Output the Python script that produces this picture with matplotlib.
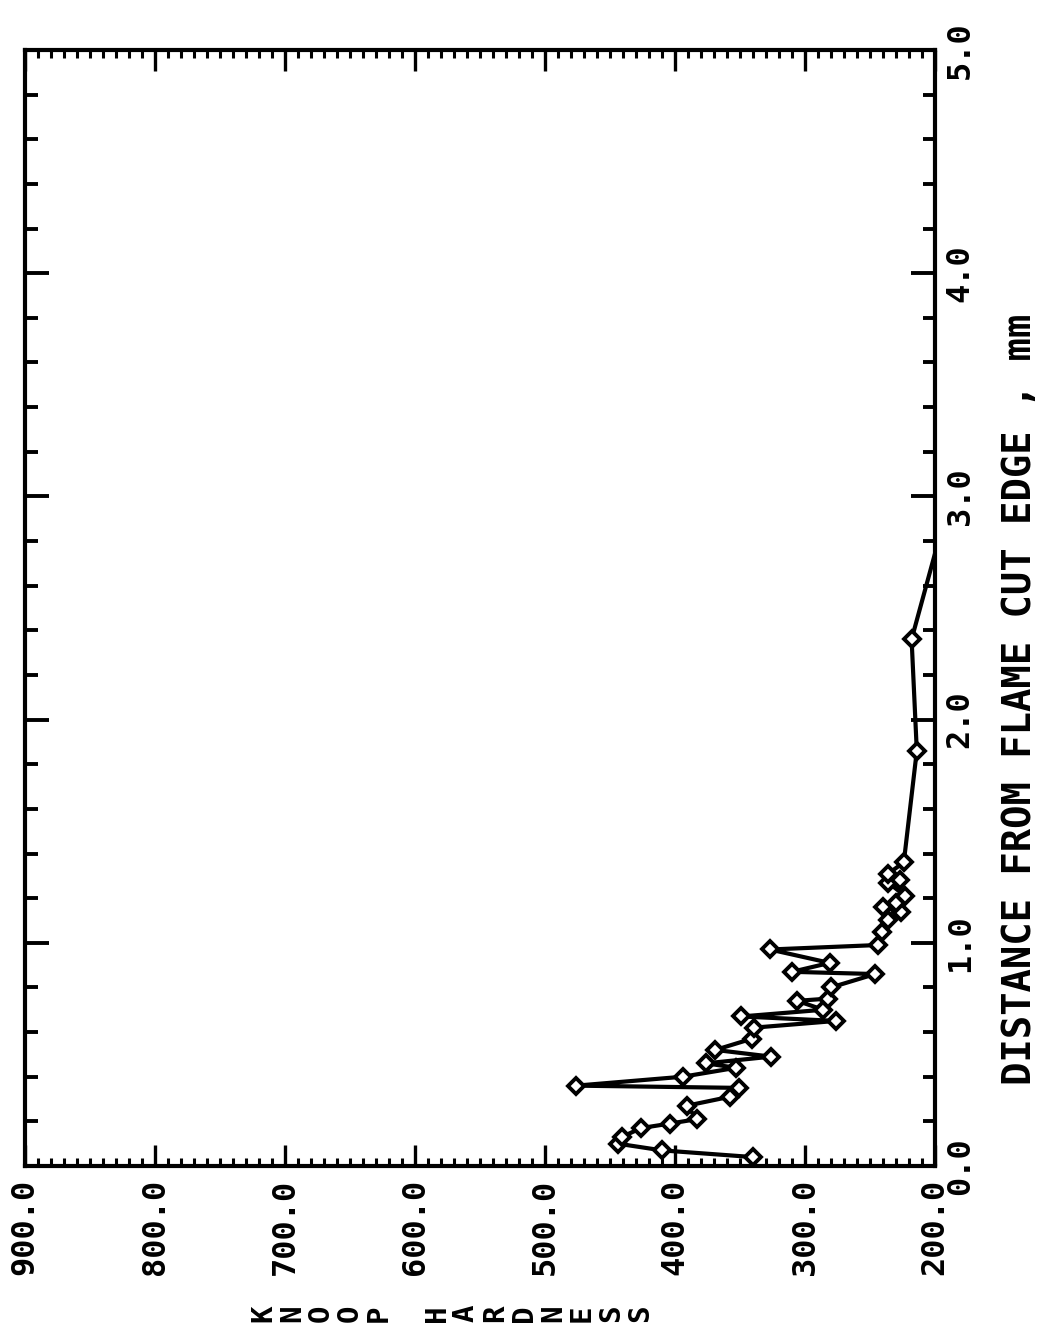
import matplotlib
matplotlib.use("Agg")
import matplotlib.pyplot as plt
from matplotlib.ticker import MultipleLocator

# Knoop hardness traverse away from a flame-cut edge
distance_mm = [0.04, 0.07, 0.10, 0.13, 0.17, 0.19, 0.21, 0.27, 0.31, 0.35,
               0.36, 0.40, 0.44, 0.46, 0.49, 0.52, 0.57, 0.62, 0.65, 0.67,
               0.70, 0.74, 0.75, 0.80, 0.86, 0.87, 0.91, 0.97, 0.99, 1.05,
               1.10, 1.14, 1.16, 1.18, 1.21, 1.27, 1.28, 1.31, 1.36, 1.86,
               2.36, 3.00]
knoop_hardness = [340, 410, 444, 441, 426, 404, 383, 391, 358, 351,
                  476, 394, 353, 376, 326, 369, 341, 339, 276, 349,
                  286, 306, 282, 280, 246, 310, 281, 327, 244, 241,
                  236, 226, 240, 230, 223, 236, 227, 236, 224, 214,
                  218, 188]

hardness_ticks = [900, 800, 700, 600, 500, 400, 300, 200]
hardness_tick_labels = ["900.0", "800.0", "700.0", "600.0",
                        "500.0", "400.0", "300.0", "200.0"]
distance_ticks = [0, 1, 2, 3, 4, 5]
distance_tick_labels = ["0.0", "1.0", "2.0", "3.0", "4.0", "5.0"]
hardness_title = "KNOOP HARDNESS"
distance_title = "DISTANCE FROM FLAME CUT EDGE , mm"

FONT = "DejaVu Sans Mono"
W, H = 1057, 1328

fig = plt.figure(figsize=(W / 100, H / 100), dpi=100)
fig.patch.set_facecolor("white")

# frame: left edge x=25, right x=935, top y=50, bottom y=1166 (pixels)
ax = fig.add_axes([25 / W, 1 - 1166 / H, 910 / W, 1116 / H])

ax.plot(knoop_hardness, distance_mm, color="black", lw=3.0,
        marker="D", ms=8.5, mfc="white", mec="black", mew=2.8,
        solid_joinstyle="round")

ax.set_xlim(900, 200)
ax.set_ylim(0, 5)

for side in ax.spines.values():
    side.set_linewidth(3.0)
    side.set_color("black")

ax.set_xticks(hardness_ticks)
ax.set_xticklabels(hardness_tick_labels, rotation=90, family=FONT,
                   fontweight="bold", fontsize=23)
ax.xaxis.set_minor_locator(MultipleLocator(10))

ax.set_yticks(distance_ticks)
ax.set_yticklabels(distance_tick_labels, rotation=90, family=FONT,
                   fontweight="bold", fontsize=23, va="center")
ax.yaxis.set_minor_locator(MultipleLocator(0.2))

ax.tick_params(axis="x", which="both", direction="in", top=True, bottom=True,
               labeltop=False, labelbottom=True, color="black")
ax.tick_params(axis="x", which="major", length=15, width=2.4, pad=9)
ax.tick_params(axis="x", which="minor", length=6, width=2.2)

ax.tick_params(axis="y", which="both", direction="in", left=True, right=True,
               labelleft=False, labelright=True, color="black")
ax.tick_params(axis="y", which="major", length=17, width=2.8, pad=7)
ax.tick_params(axis="y", which="minor", length=9, width=2.8)

# distance axis title, rotated, to the right of the frame
fig.text(1020 / W, 1 - 1085 / H, distance_title, rotation=90,
         ha="center", va="bottom", family=FONT, fontweight="bold",
         fontsize=28)

# hardness axis title: one rotated glyph per character position
x0, step = 263, 29
for i, ch in enumerate(hardness_title):
    if ch == " ":
        continue
    fig.text((x0 + i * step) / W, 1 - 1313 / H, ch, rotation=90,
             ha="center", va="center", family=FONT, fontweight="bold",
             fontsize=21)

fig.savefig("out.png", dpi=100, facecolor="white")
